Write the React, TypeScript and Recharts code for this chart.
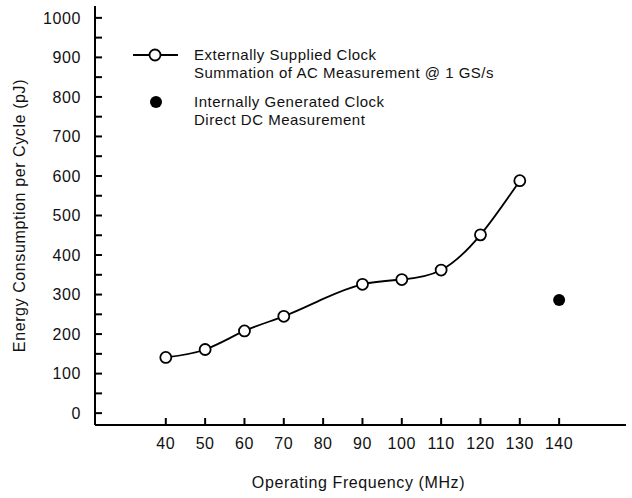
import React from 'react';
import { ComposedChart, Line, Scatter, XAxis, YAxis } from 'recharts';

const acFrequencies = [40, 50, 60, 70, 80, 90, 100, 110, 120, 130];
const acEnergy = [141, 161, 208, 245, 289, 326, 338, 362, 451, 588];
const dcFrequencies = [140];
const dcEnergy = [286];
const xTicks = [40, 50, 60, 70, 80, 90, 100, 110, 120, 130, 140];
const yTicks = [0, 50, 100, 150, 200, 250, 300, 350, 400, 450, 500, 550, 600, 650, 700, 750, 800, 850, 900, 950, 1000];

const markerFreqs = [40, 50, 60, 70, 90, 100, 110, 120, 130];

const acData = acFrequencies.map((f, i) => ({ f, e: acEnergy[i] }));
const dcData = dcFrequencies.map((f, i) => ({ f, e: dcEnergy[i] }));

const FONT = '"Liberation Sans", Arial, Helvetica, sans-serif';
const TXT = '#111';
const FS = 16;
const LS = 0.6;
const LFS = 15;
const LLS = 0.5;

const OpenDot = (props: any) => {
  const { cx, cy, payload } = props;
  if (!markerFreqs.includes(payload.f)) return <g key={`d${payload.f}`} />;
  return <circle key={`d${payload.f}`} cx={cx} cy={cy} r={5.5} fill="#fff" stroke="#000" strokeWidth={1.8} />;
};

const FilledDot = (props: any) => {
  const { cx, cy } = props;
  return <circle cx={cx} cy={cy} r={6} fill="#000" stroke="none" />;
};

const YTitle = (props: any) => {
  const vb = props.viewBox;
  const x = vb.x + 19;
  const y = vb.y + vb.height / 2;
  return (
    <text x={x} y={y} transform={`rotate(-90 ${x} ${y})`} textAnchor="middle" dominantBaseline="central" fontFamily={FONT} fontSize={FS} letterSpacing={LS} fill={TXT}>
      Energy Consumption per Cycle (pJ)
    </text>
  );
};

const XTitle = (props: any) => {
  const vb = props.viewBox;
  return (
    <text x={vb.x + vb.width / 2 - 2} y={vb.y + 63} textAnchor="middle" fontFamily={FONT} fontSize={FS} letterSpacing={LS} fill={TXT}>
      Operating Frequency (MHz)
    </text>
  );
};

const tickStyle = { fontFamily: FONT, fontSize: FS, fill: TXT, letterSpacing: LS };

export default function App() {
  return (
    <div style={{ position: 'absolute', left: 0, top: 0, width: 632, height: 498, background: '#fff' }}>
      <ComposedChart width={632} height={498} margin={{ top: 6, right: 6, left: 0, bottom: 0 }}>
        <XAxis
          xAxisId="main"
          dataKey="f"
          type="number"
          domain={[22, 157]}
          ticks={xTicks}
          interval={0}
          height={73}
          allowDataOverflow
          axisLine={{ stroke: '#000', strokeWidth: 2 }}
          tickLine={{ stroke: '#000', strokeWidth: 2 }}
          tickSize={-7}
          tickMargin={20}
          tick={tickStyle}
          label={<XTitle />}
        />
        <XAxis xAxisId="top" orientation="top" type="number" domain={[22, 157]} height={0} tick={false} tickLine={false} axisLine={{ stroke: '#000', strokeWidth: 2 }} />
        <YAxis
          yAxisId="main"
          type="number"
          domain={[-30, 1030]}
          ticks={yTicks}
          interval={0}
          width={95}
          allowDataOverflow
          axisLine={{ stroke: '#000', strokeWidth: 2 }}
          tickLine={{ stroke: '#000', strokeWidth: 2 }}
          tickSize={-7}
          tickMargin={21}
          tickFormatter={(v: number) => (v % 100 === 0 ? String(v) : '')}
          tick={tickStyle}
          label={<YTitle />}
        />
        <YAxis yAxisId="right" orientation="right" type="number" domain={[-30, 1030]} width={0} tick={false} tickLine={false} axisLine={{ stroke: '#000', strokeWidth: 2 }} />
        <Line
          xAxisId="main"
          yAxisId="main"
          data={acData}
          dataKey="e"
          type="natural"
          stroke="#000"
          strokeWidth={1.8}
          dot={<OpenDot />}
          activeDot={false}
          isAnimationActive={false}
        />
        <Scatter
          xAxisId="main"
          yAxisId="main"
          data={dcData}
          dataKey="e"
          shape={<FilledDot />}
          isAnimationActive={false}
        />
      </ComposedChart>
      <svg width={632} height={498} style={{ position: 'absolute', left: 0, top: 0, pointerEvents: 'none' }}>
        <line x1={133} y1={55} x2={178} y2={55} stroke="#000" strokeWidth={1.8} />
        <circle cx={155} cy={55} r={5.5} fill="#fff" stroke="#000" strokeWidth={1.8} />
        <text x={194} y={60} fontFamily={FONT} fontSize={LFS} letterSpacing={LLS} fill={TXT}>Externally Supplied Clock</text>
        <text x={194} y={78} fontFamily={FONT} fontSize={LFS} letterSpacing={LLS} fill={TXT}>Summation of AC Measurement @ 1 GS/s</text>
        <circle cx={156} cy={102} r={6} fill="#000" />
        <text x={194} y={107} fontFamily={FONT} fontSize={LFS} letterSpacing={LLS} fill={TXT}>Internally Generated Clock</text>
        <text x={194} y={125} fontFamily={FONT} fontSize={LFS} letterSpacing={LLS} fill={TXT}>Direct DC Measurement</text>
      </svg>
    </div>
  );
}
